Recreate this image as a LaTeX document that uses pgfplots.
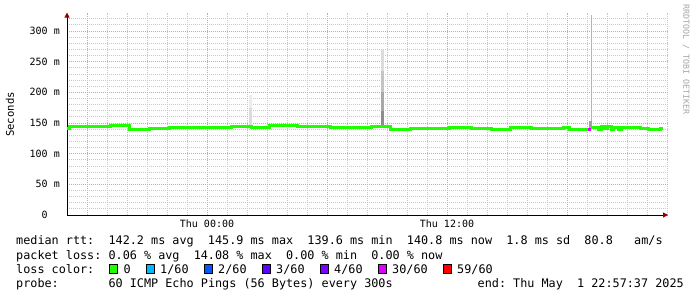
\documentclass[border=0pt]{standalone}
\usepackage{fontspec}
\usepackage{pgfplots}
\pgfplotsset{compat=1.18}
\usetikzlibrary{arrows.meta}
\setmainfont{DejaVu Sans Mono}
\newfontfamily\mono{DejaVu Sans Mono}
\newcommand\legfont{\mono\fontsize{11.8bp}{14bp}\selectfont}
\newcommand\tickfont{\mono\fontsize{10bp}{12bp}\selectfont}
\newcommand\labfont{\mono\fontsize{10.6bp}{12bp}\selectfont}
\newcommand\wmfont{\mono\fontsize{8.3bp}{10bp}\selectfont}
\definecolor{lzero}{RGB}{32,255,0}
\definecolor{lone}{RGB}{0,184,255}
\definecolor{ltwo}{RGB}{0,89,255}
\definecolor{lthree}{RGB}{94,0,255}
\definecolor{lfour}{RGB}{126,0,255}
\definecolor{lthirty}{RGB}{221,0,255}
\definecolor{lfiftynine}{RGB}{255,0,0}
\definecolor{mgrid}{RGB}{240,150,150}
\definecolor{ngrid}{RGB}{200,200,200}
\definecolor{arrowred}{RGB}{150,0,0}
\begin{document}
\begin{tikzpicture}
\useasboundingbox (0,0) rectangle (697bp,297bp);
\fill[white] (0,0) rectangle (697bp,297bp);
\begin{axis}[
  at={(67bp,82bp)}, anchor=south west,
  scale only axis, width=601bp, height=202.4bp,
  xmin=-7, xmax=23.05, ymin=0, ymax=330,
  axis lines=left,
  axis line style={draw=black, line width=0.9bp, -{Triangle[length=5bp,width=5bp,color=arrowred]}},
  xtick={-6,0,6,12,18},
  xticklabels={,Thu 00:00,,Thu 12:00,},
  minor xtick={-7,-6,...,23},
  ytick={0,50,...,300},
  yticklabels={0\phantom{~m},50 m,100 m,150 m,200 m,250 m,300 m},
  minor ytick={10,20,...,320},
  major tick length=0pt, minor tick length=0pt,
  grid=both,
  major grid style={draw=mgrid, line width=0.8bp, dash pattern=on 1bp off 1bp},
  minor grid style={draw=ngrid, line width=0.8bp, dash pattern=on 1bp off 1bp},
  xticklabel style={font=\tickfont, anchor=base, inner sep=0pt, yshift=-13bp},
  yticklabel style={font=\tickfont, anchor=base east, inner sep=0pt, xshift=-7bp, yshift=-3.6bp},
]
% smoke
\addplot[draw=none, fill={rgb,255:red,220;green,220;blue,220}] coordinates {(2.1,142) (2.1,175) (2.25,175) (2.25,142)} -- cycle;
\addplot[draw=none, fill={rgb,255:red,236;green,236;blue,236}] coordinates {(2.1,175) (2.1,195) (2.25,195) (2.25,175)} -- cycle;
\addplot[draw=none, fill={rgb,255:red,140;green,140;blue,140}] coordinates {(8.72,143) (8.72,170) (8.87,170) (8.87,143)} -- cycle;
\addplot[draw=none, fill={rgb,255:red,168;green,168;blue,168}] coordinates {(8.72,170) (8.72,200) (8.87,200) (8.87,170)} -- cycle;
\addplot[draw=none, fill={rgb,255:red,196;green,196;blue,196}] coordinates {(8.72,200) (8.72,235) (8.87,235) (8.87,200)} -- cycle;
\addplot[draw=none, fill={rgb,255:red,220;green,220;blue,220}] coordinates {(8.72,235) (8.72,269) (8.87,269) (8.87,235)} -- cycle;
\addplot[draw=none, fill={rgb,255:red,160;green,160;blue,160}] coordinates {(19.1,140) (19.1,153) (19.25,153) (19.25,140)} -- cycle;
\addplot[draw=none, fill={rgb,255:red,180;green,180;blue,180}] coordinates {(19.2,153) (19.2,326) (19.25,326) (19.25,153)} -- cycle;
% median rtt, coloured by loss
\addplot[const plot, draw=lzero, line width=3bp] coordinates {
(-7.0,141.4) (-6.9,144.0) (-4.85,145.9) (-3.9,139.6) (-2.9,141.4) (-1.9,142.3)
(1.2,144.0) (2.2,142.3) (3.1,145.6) (4.5,144.0) (6.15,142.0) (8.2,143.5)
(9.15,139.6) (10.15,140.5) (12.1,142.0) (13.2,140.5) (14.2,139.6) (15.15,142.0)
(16.2,140.5) (17.8,143.0) (18.1,139.6) (19.05,139.6)
};
\addplot[const plot, draw=lthirty, line width=3bp] coordinates {(19.05,139.8) (19.2,139.8)};
\addplot[const plot, draw=lzero, line width=3bp] coordinates {
(19.2,142.3) (19.55,140.0) (19.7,145.0) (19.85,140.5) (20.0,143.5) (20.2,139.6)
(20.3,142.5) (20.55,140.0) (20.7,143.0) (21.25,142.0) (21.65,141.0) (22.05,139.6)
(22.65,141.0) (22.8,141.0)
};
\end{axis}
% axis title and watermark
\node[rotate=90, font=\labfont, inner sep=0pt] at (10bp,182.5bp) {Seconds};
\node[rotate=-90, anchor=west, font=\wmfont, text=black!35, inner sep=0pt] at (686bp,293bp) {RRDTOOL / TOBI OETIKER};
% legend
\node[anchor=base west, inner sep=0pt, font=\legfont] at (16bp,52bp) {median~rtt:~~142.2~ms~avg~~145.9~ms~max~~139.6~ms~min~~140.8~ms~now~~1.8~ms~sd~~80.8~~~am/s};
\node[anchor=base west, inner sep=0pt, font=\legfont] at (16bp,38bp) {packet~loss:~0.06~\%~avg~~14.08~\%~max~~0.00~\%~min~~0.00~\%~now};
\node[anchor=base west, inner sep=0pt, font=\legfont] at (16bp,24bp) {loss~color:};
\foreach \bx/\lx/\c/\t in {109/123.5/lzero/0, 146/160/lone/1\slash 60, 204/218/ltwo/2\slash 60, 262/276/lthree/3\slash 60, 320/334/lfour/4\slash 60, 378/392/lthirty/30\slash 60, 443/457/lfiftynine/59\slash 60}{
  \filldraw[fill=\c, draw=black, line width=0.8bp] (\bx bp,24bp) rectangle ++(8bp,9bp);
  \node[anchor=base west, inner sep=0pt, font=\legfont] at (\lx bp,24bp) {\t};
}
\node[anchor=base west, inner sep=0pt, font=\legfont] at (16bp,10bp) {probe:~~~~~~~60~ICMP~Echo~Pings~(56~Bytes)~every~300s};
\node[anchor=base west, inner sep=0pt, font=\legfont] at (477.5bp,10bp) {end:~Thu~May~~1~22:57:37~2025};
\end{tikzpicture}
\end{document}
